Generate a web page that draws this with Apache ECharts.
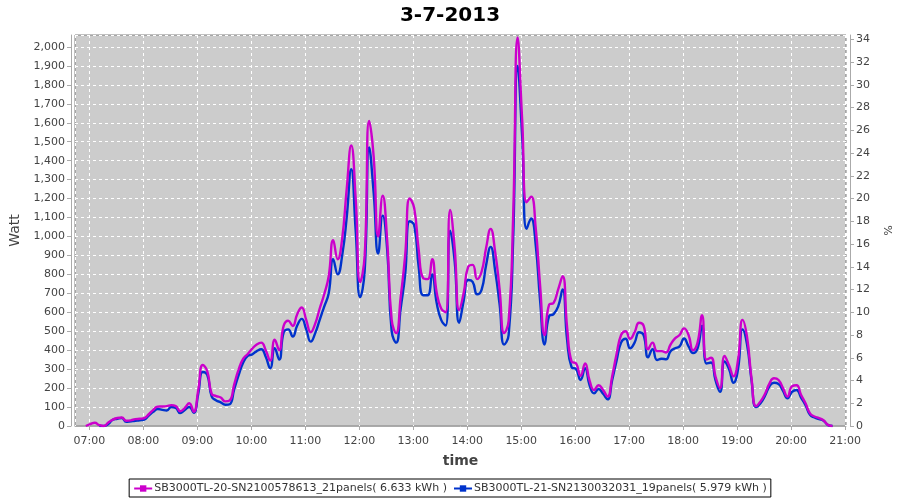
<!DOCTYPE html>
<html>
<head>
<meta charset="utf-8">
<script src="https://cdn.jsdelivr.net/npm/echarts@6/dist/echarts.min.js"></script>
<style>html,body{margin:0;padding:0;background:#fff;}#chart{width:900px;height:500px;}</style>
</head>
<body>
<div id="chart"></div>
<script>
// Sample times (HH:MM), 5-minute readings
var times = [
 "06:56",
 "07:01","07:06","07:11","07:16","07:21","07:26","07:31","07:36","07:41","07:46","07:51","07:56",
 "08:01","08:06","08:11","08:16","08:21","08:26","08:31","08:36","08:41","08:46","08:51","08:56",
 "09:01","09:06","09:11","09:16","09:21","09:26","09:31","09:36","09:41","09:46","09:51","09:56",
 "10:01","10:06","10:11","10:16","10:21","10:26","10:31","10:36","10:41","10:46","10:51","10:56",
 "11:01","11:06","11:11","11:16","11:21","11:26","11:31","11:36","11:41","11:46","11:51","11:56",
 "12:01","12:06","12:11","12:16","12:21","12:26","12:31","12:36","12:41","12:46","12:51","12:56",
 "13:01","13:06","13:11","13:16","13:21","13:26","13:31","13:36","13:41","13:46","13:51","13:56",
 "14:01","14:06","14:11","14:16","14:21","14:26","14:31","14:36","14:41","14:46","14:51","14:56",
 "15:01","15:06","15:11","15:16","15:21","15:26","15:31","15:36","15:41","15:46","15:51","15:56",
 "16:01","16:06","16:11","16:16","16:21","16:26","16:31","16:36","16:41","16:46","16:51","16:56",
 "17:01","17:06","17:11","17:16","17:21","17:26","17:31","17:36","17:41","17:46","17:51","17:56",
 "18:01","18:06","18:11","18:16","18:21","18:26","18:31","18:36","18:41","18:46","18:51","18:56",
 "19:01","19:06","19:11","19:16","19:21","19:26","19:31","19:36","19:41","19:46","19:51","19:56",
 "20:01","20:06","20:11","20:16","20:21","20:26","20:31","20:36","20:41","20:46"
];
// SB3000TL-20 (magenta), Watt
var wattSB20 = [
 0,
 10,17,5,0,18,34,42,45,28,30,36,38,
 42,62,85,102,103,105,110,105,78,95,120,75,
 190,322,290,169,158,150,130,135,220,300,355,380,
 408,430,440,400,345,455,400,530,555,528,590,625,
 560,495,540,620,695,790,980,880,990,1250,1480,1200,
 760,900,1610,1420,1000,1215,980,560,490,680,900,1200,
 1150,930,780,775,880,705,620,600,1140,940,612,700,
 840,850,775,815,940,1040,920,720,490,555,1100,2050,
 1620,1180,1210,1050,740,480,640,650,720,790,520,340,
 330,265,330,240,190,215,190,155,260,380,480,500,
 460,495,545,530,405,440,395,395,388,430,462,480,
 515,480,400,440,585,350,360,260,200,370,320,262,
 350,560,470,250,105,130,170,225,252,243,200,155,
 210,215,165,120,67,50,42,30,6,0
];
// SB3000TL-21 (blue), Watt
var wattSB21 = [
 null,
 null,null,0,0,10,33,38,42,22,25,28,30,
 34,55,75,90,85,82,100,95,68,85,100,70,
 170,285,270,155,135,125,112,115,195,270,335,370,
 378,395,405,365,305,410,350,495,510,472,530,565,
 510,445,490,560,630,700,880,800,900,1100,1355,1030,
 680,820,1470,1230,910,1110,930,500,440,620,800,1080,
 1060,840,690,690,800,650,560,530,1030,870,545,660,
 770,760,695,720,850,945,820,640,430,480,980,1900,
 1530,1040,1095,960,660,430,580,590,630,720,455,310,
 300,243,305,215,172,195,170,141,240,345,440,460,
 410,440,495,480,362,405,348,355,352,395,410,420,
 462,420,385,410,529,330,335,240,180,340,300,228,
 300,510,430,240,100,120,160,210,228,222,185,146,
 180,190,150,110,59,45,36,28,5,0
];
var seriesNames = [
 "SB3000TL-20-SN2100578613_21panels( 6.633 kWh )",
 "SB3000TL-21-SN2130032031_19panels( 5.979 kWh )"
];
var titleText = "3-7-2013";

function ts(hm){ var p = hm.split(":"); return Date.UTC(2013,2,7,+p[0],+p[1]); }
function pair(vals){ return times.map(function(t,i){ return [ts(t), vals[i]]; }); }
function pad(n){ return (n<10?"0":"")+n; }

var font = "DejaVu Sans";
var chart = echarts.init(document.getElementById('chart'), null, {renderer:'canvas'});
chart.setOption({
  useUTC: true,
  animation: false,
  backgroundColor: '#ffffff',
  title: { text: titleText, left: 'center', top: 1,
    textStyle: { fontFamily: font, fontSize: 20, fontWeight: 'bold', color: '#000' } },
  grid: { left: 75, right: 54, top: 35, bottom: 74, show: true,
    backgroundColor: '#cccccc', borderColor: '#808080', borderWidth: 1 },
  legend: { bottom: 3, left: 'center', data: seriesNames,
    backgroundColor: '#ffffff', borderColor: '#000', borderWidth: 1, borderRadius: 0,
    padding: [4, 4, 3, 4], itemGap: 6, itemWidth: 18, itemHeight: 8,
    textStyle: { fontFamily: font, fontSize: 11, color: '#333', padding: [0,0,0,-3] } },
  xAxis: {
    type: 'time', offset: 4,
    min: ts("06:44"), max: ts("21:01"),
    minInterval: 3600000, maxInterval: 3600000,
    name: 'time', nameLocation: 'middle', nameGap: 24,
    nameTextStyle: { fontFamily: font, fontSize: 14, fontWeight: 'bold', color: '#444' },
    axisLine: { lineStyle: { color: '#aaaaaa' } },
    axisTick: { length: 4, lineStyle: { color: '#aaaaaa' } },
    axisLabel: { fontFamily: font, fontSize: 11, color: '#444', margin: 6,
      showMinLabel: false, showMaxLabel: false,
      formatter: function(v){ var d = new Date(v); return pad(d.getUTCHours())+":"+pad(d.getUTCMinutes()); } },
    splitLine: { show: true, lineStyle: { color: '#ffffff', type: [3,3], width: 1 } }
  },
  yAxis: [{
    type: 'value', min: 0, max: 2063, interval: 100, offset: 4,
    name: 'Watt', nameLocation: 'middle', nameGap: 44,
    nameTextStyle: { fontFamily: font, fontSize: 14, color: '#444' },
    axisLine: { show: true, lineStyle: { color: '#aaaaaa' } },
    axisTick: { show: true, length: 4, lineStyle: { color: '#aaaaaa' } },
    axisLabel: { fontFamily: font, fontSize: 11, color: '#444', margin: 6, showMaxLabel: false,
      formatter: function(v){ return v.toLocaleString('en-US'); } },
    splitLine: { show: true, lineStyle: { color: '#ffffff', type: [3,3], width: 1 } }
  }, {
    type: 'value', position: 'right', min: 0, max: 2063/60, interval: 2, offset: 4,
    name: '%', nameLocation: 'middle', nameGap: 28, nameRotate: -90,
    nameTextStyle: { fontFamily: font, fontSize: 11, color: '#444' },
    axisLine: { show: true, lineStyle: { color: '#aaaaaa' } },
    axisTick: { show: true, length: 4, lineStyle: { color: '#aaaaaa' } },
    axisLabel: { fontFamily: font, fontSize: 11, color: '#444', margin: 6, showMaxLabel: false },
    splitLine: { show: false }
  }],
  series: [{
    name: seriesNames[0], type: 'line', data: pair(wattSB20), z: 4,
    smooth: 0.5, showSymbol: false, symbol: 'rect', symbolSize: 3,
    itemStyle: { color: '#cc00cc' }, lineStyle: { color: '#cc00cc', width: 2.4 }
  }, {
    name: seriesNames[1], type: 'line', data: pair(wattSB21), z: 3,
    smooth: 0.5, showSymbol: false, symbol: 'rect', symbolSize: 3,
    itemStyle: { color: '#0033cc' }, lineStyle: { color: '#0033cc', width: 2.4 }
  }]
});
</script>
</body>
</html>
